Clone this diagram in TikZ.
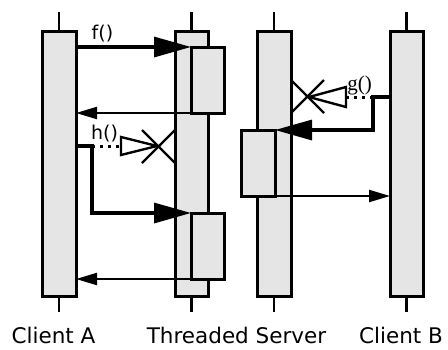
\documentclass[tikz,border=0pt]{standalone}
\usepackage{fontspec}
\setmainfont{DejaVu Sans}
\newfontfamily\serifg{Liberation Serif}
\usetikzlibrary{arrows.meta}
\begin{document}
\begin{tikzpicture}[x=1pt,y=-1pt,
  bar/.style={draw,line width=3pt,fill=black!10,minimum width=34pt,minimum height=265pt,inner sep=0pt,outer sep=0pt},
  act/.style={draw,line width=3pt,fill=black!10,minimum width=33pt,minimum height=66pt,inner sep=0pt,outer sep=0pt},
  tick/.style={line width=2.2pt},
  bigarrow/.style={line width=3.2pt,-{Triangle[length=37pt,width=20pt]}},
  retarrow/.style={line width=2.2pt,-{Triangle[length=21pt,width=12pt]}},
  lost/.style={line width=3pt,dash pattern=on 3pt off 5pt},
  opentri/.style={line width=2.4pt,fill=white,line join=miter},
  cross/.style={line width=2.2pt},
  lbl/.style={inner sep=0pt,font=\fontsize{21.5}{24}\selectfont,anchor=base},
  msg/.style={inner sep=0pt,font=\fontsize{19}{22}\selectfont}
]
\useasboundingbox (0,0) rectangle (448,349);
% lifelines
\node[bar] (A) at (59,163.5) {};
\node[bar,minimum width=33pt] (S1) at (191.5,163.5) {};
\node[bar] (S2) at (274,163.5) {};
\node[bar,minimum width=33pt] (B) at (406.5,163.5) {};
\foreach \n in {A,S1,S2,B}{
  \draw[tick] (\n.north) -- ++(0,-19);
  \draw[tick] (\n.south) -- ++(0,16);
}
% activations
\node[act] (b1) at (207.5,80) {};
\node[act] (b2) at (207.5,246) {};
\node[act,minimum width=34pt] (b3) at (258,163) {};
% f()
\draw[bigarrow] (b1.north west -| A.east) -- (b1.north west);
\node[msg] (f) at (102.5,34) {f()};
\draw[retarrow] (b1.south east) -- (b1.south east -| A.east);
% h()
\coordinate (hs) at (76,146);
\coordinate (hk) at (92,146);
\coordinate (hb) at (121,146);
\draw[bigarrow] (hs) -- (hk) -- (hk |- b2.north west) -- (b2.north west);
\draw[lost] (hk) -- (hb);
\draw[opentri] (121,137) -- (157,146) -- (121,155) -- cycle;
\draw[cross] (142,130) -- (175,163);
\draw[cross] (142,163) -- (175,130);
\node[msg] (h) at (104.5,134) {h()};
\draw[retarrow] (b2.south east) -- (b2.south east -| A.east);
% g()
\coordinate (gs) at (390,97);
\coordinate (gk) at (373,97);
\coordinate (gb) at (346,97);
\draw[bigarrow] (gs) -- (gk) -- (gk |- b3.north east) -- (b3.north east);
\draw[lost] (gk) -- (gb);
\draw[opentri] (346,87) -- (309,97) -- (346,107) -- cycle;
\draw[cross] (291,80) -- (324,113);
\draw[cross] (291,113) -- (324,80);
\node[msg,font=\serifg\fontsize{21}{24}\selectfont] (g) at (359.5,85) {g()};
\draw[retarrow] (b3.south west) -- (b3.south west -| B.west);
% labels
\node[lbl] (la) at (53.5,343) {Client A};
\node[lbl] (ls) at (236.5,343) {Threaded Server};
\node[lbl] (lb) at (401,343) {Client B};
\end{tikzpicture}
\end{document}
